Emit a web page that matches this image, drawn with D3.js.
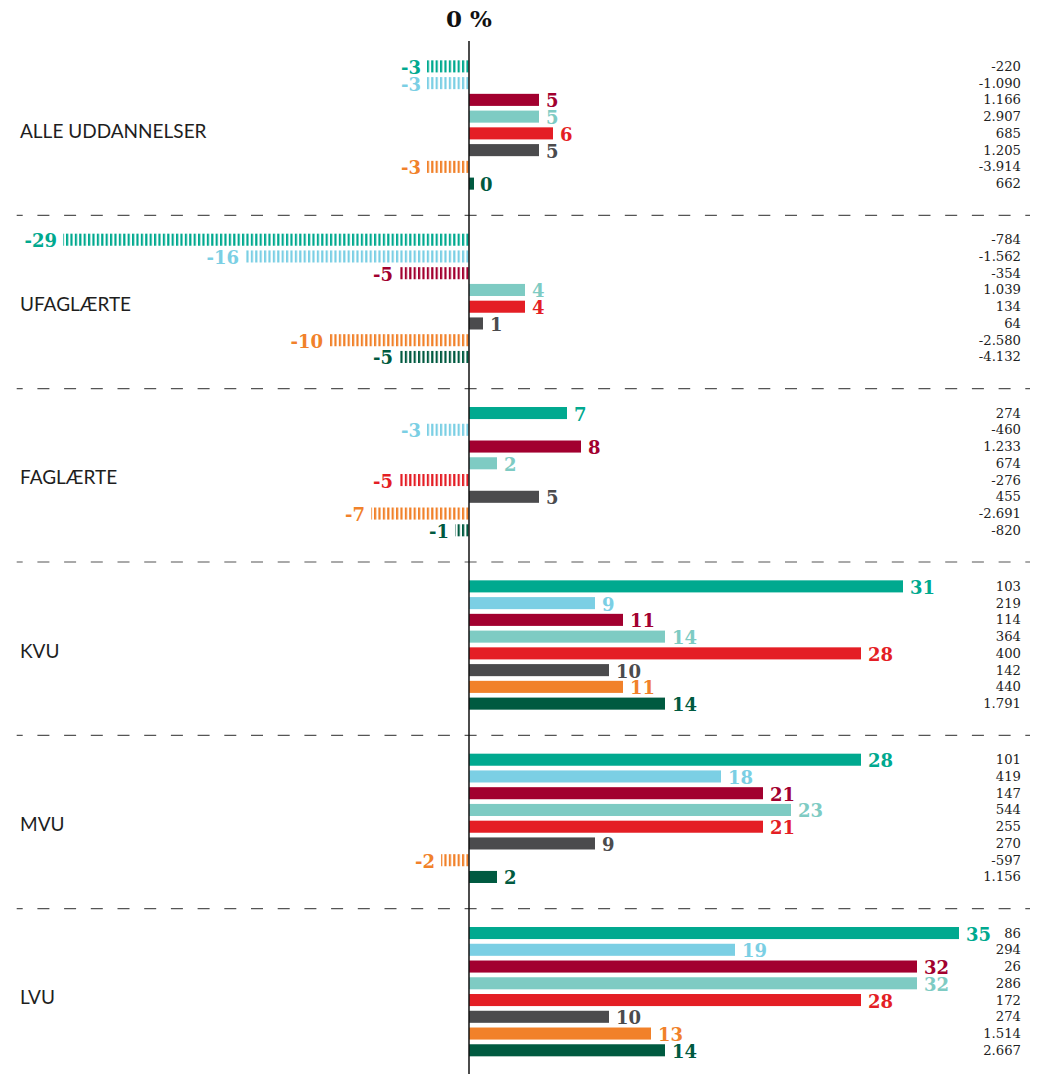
<!DOCTYPE html>
<html>
<head>
<meta charset="utf-8">
<script src="https://cdn.jsdelivr.net/npm/d3@7"></script>
<style>
  html, body { margin: 0; padding: 0; background: #ffffff; }
  svg { display: block; }
</style>
</head>
<body>
<div id="chart"></div>
<script>
// Education groups (one block of bars each)
const groups = ["ALLE UDDANNELSER", "UFAGLÆRTE", "FAGLÆRTE", "KVU", "MVU", "LVU"];

// Eight series per block, drawn in this order
const seriesKeys = ["s1", "s2", "s3", "s4", "s5", "s6", "s7", "s8"];
const seriesColors = ["#00a98f", "#7bcfe4", "#a2002f", "#7ecbc3", "#e41e25", "#4b4b4d", "#f1812a", "#005a40"];

// Percentage change per block, one value per series
const pctAlle       = [-3, -3, 5, 5, 6, 5, -3, 0];
const pctUfaglaerte = [-29, -16, -5, 4, 4, 1, -10, -5];
const pctFaglaerte  = [7, -3, 8, 2, -5, 5, -7, -1];
const pctKvu        = [31, 9, 11, 14, 28, 10, 11, 14];
const pctMvu        = [28, 18, 21, 23, 21, 9, -2, 2];
const pctLvu        = [35, 19, 32, 32, 28, 10, 13, 14];

// Change in number of persons per block, one value per series
const countAlle       = [-220, -1090, 1166, 2907, 685, 1205, -3914, 662];
const countUfaglaerte = [-784, -1562, -354, 1039, 134, 64, -2580, -4132];
const countFaglaerte  = [274, -460, 1233, 674, -276, 455, -2691, -820];
const countKvu        = [103, 219, 114, 364, 400, 142, 440, 1791];
const countMvu        = [101, 419, 147, 544, 255, 270, -597, 1156];
const countLvu        = [86, 294, 26, 286, 172, 274, 1514, 2667];

const axisTitle = "0 %";

const pctByGroup = [pctAlle, pctUfaglaerte, pctFaglaerte, pctKvu, pctMvu, pctLvu];
const countByGroup = [countAlle, countUfaglaerte, countFaglaerte, countKvu, countMvu, countLvu];

const rows = [];
groups.forEach((g, gi) => {
  seriesKeys.forEach((s, si) => {
    rows.push({ group: g, series: s, color: seriesColors[si], pct: pctByGroup[gi][si], count: countByGroup[gi][si] });
  });
});

const width = 1041, height = 1074;
const svg = d3.select("#chart").append("svg")
  .attr("width", width).attr("height", height)
  .attr("viewBox", [0, 0, width, height]);

const da = d3.formatLocale({ decimal: ",", thousands: ".", grouping: [3], currency: ["", " kr."], minus: "-" });
const fmtCount = da.format(",d");
const fmtPct = da.format("d");

// Scales
const x = d3.scaleLinear().domain([0, 35]).range([469, 959]);
const yGroup = d3.scaleBand().domain(groups).range([42, 1082]);
const yRow = d3.scaleBand().domain(seriesKeys).range([16, 150]).paddingInner(0.28).paddingOuter(0.14);

// Stripe patterns for negative bars
const defs = svg.append("defs");
seriesColors.forEach((c, i) => {
  const p = defs.append("pattern")
    .attr("id", "hatch" + i)
    .attr("patternUnits", "userSpaceOnUse")
    .attr("width", 4.4).attr("height", 40);
  p.append("rect").attr("x", 0).attr("y", 0).attr("width", 2.2).attr("height", 40).attr("fill", c);
});

// Group separators
svg.append("g").selectAll("line")
  .data(groups.slice(1))
  .join("line")
  .attr("x1", 16.7).attr("x2", 1030)
  .attr("y1", d => yGroup(d)).attr("y2", d => yGroup(d))
  .attr("stroke", "#555")
  .attr("stroke-width", 1.2)
  .attr("stroke-dasharray", "12 14.7")
  .attr("stroke-dashoffset", 6);

// Group labels
svg.append("g").selectAll("text")
  .data(groups)
  .join("text")
  .attr("x", 20)
  .attr("y", d => yGroup(d) + 88)
  .attr("dominant-baseline", "central")
  .attr("font-family", "Lato, 'Open Sans', sans-serif")
  .attr("font-size", 19)
  .attr("fill", "#1e1e1e")
  .text(d => d);

const rowY = d => yGroup(d.group) + yRow(d.series);
const bw = yRow.bandwidth();

// Bars
svg.append("g").selectAll("rect")
  .data(rows)
  .join("rect")
  .attr("x", d => d.pct >= 0 ? x(0) : x(d.pct))
  .attr("y", d => rowY(d))
  .attr("width", d => d.pct === 0 ? 5 : Math.abs(x(d.pct) - x(0)))
  .attr("height", bw)
  .attr("fill", d => d.pct >= 0 ? d.color : `url(#hatch${seriesKeys.indexOf(d.series)})`);

// Value labels
svg.append("g").selectAll("text")
  .data(rows)
  .join("text")
  .attr("x", d => d.pct > 0 ? x(d.pct) + 7 : d.pct === 0 ? x(0) + 11 : x(d.pct) - 6)
  .attr("y", d => rowY(d) + bw / 2 + 1)
  .attr("text-anchor", d => d.pct >= 0 ? "start" : "end")
  .attr("dominant-baseline", "central")
  .attr("font-family", "'DejaVu Serif', 'Liberation Serif', serif")
  .attr("font-weight", "bold")
  .attr("font-size", 18)
  .attr("fill", d => d.color)
  .text(d => fmtPct(d.pct));

// Count column
svg.append("g").selectAll("text")
  .data(rows)
  .join("text")
  .attr("x", 1021)
  .attr("y", d => rowY(d) + bw / 2)
  .attr("text-anchor", "end")
  .attr("dominant-baseline", "central")
  .attr("font-family", "'DejaVu Serif', 'Liberation Serif', serif")
  .attr("font-size", 13.2)
  .attr("fill", "#222")
  .text(d => fmtCount(d.count));

// Zero axis
svg.append("line")
  .attr("x1", x(0)).attr("x2", x(0))
  .attr("y1", 41).attr("y2", height)
  .attr("stroke", "#111").attr("stroke-width", 1.5);

svg.append("text")
  .attr("x", x(0))
  .attr("y", 27)
  .attr("text-anchor", "middle")
  .attr("font-family", "'DejaVu Serif', 'Liberation Serif', serif")
  .attr("font-weight", "bold")
  .attr("font-size", 23)
  .attr("fill", "#111")
  .text(axisTitle);
</script>
</body>
</html>
